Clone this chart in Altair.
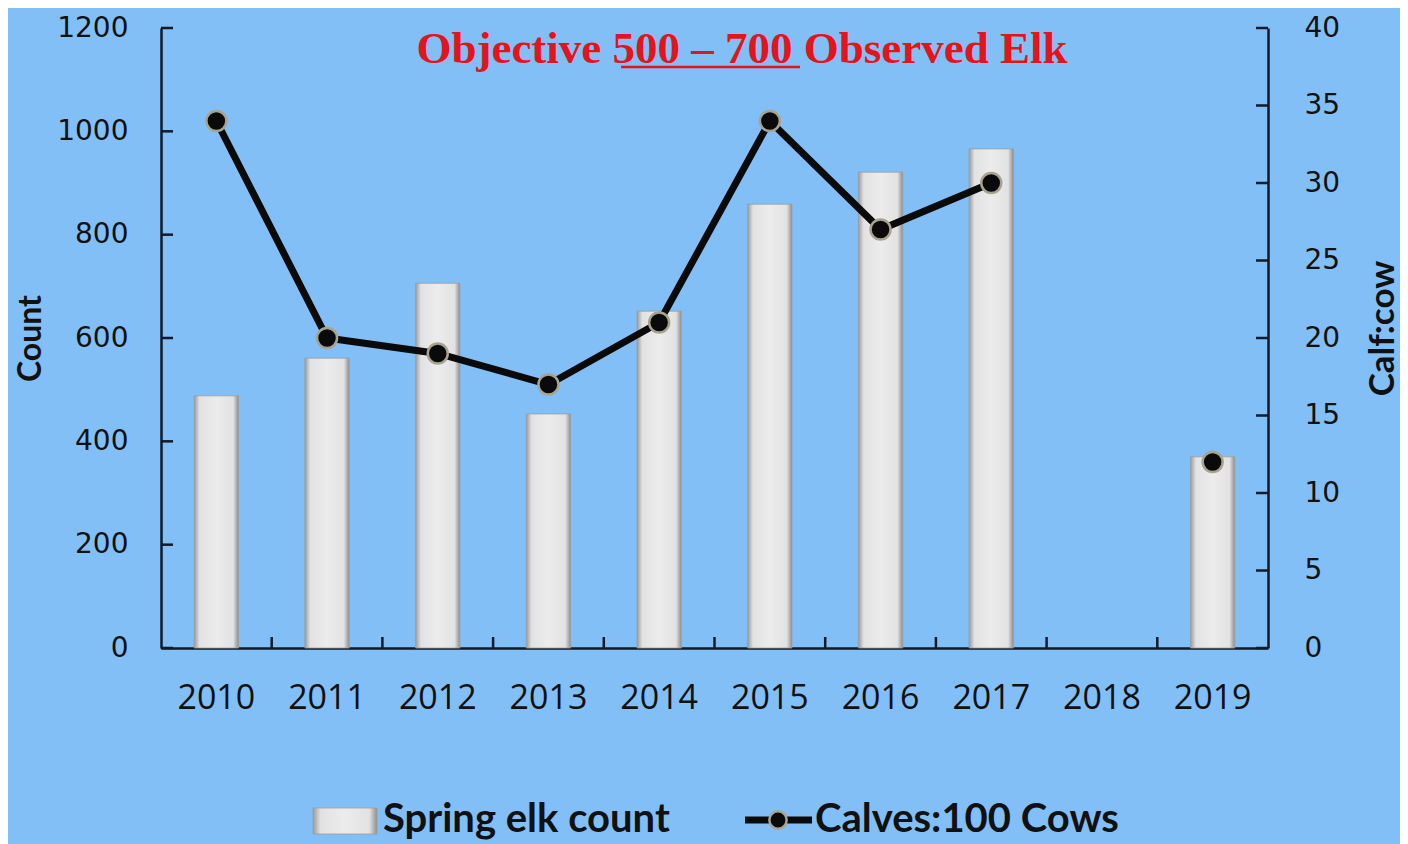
import altair as alt
import pandas as pd

# ---------------- data ----------------
years = ["2010", "2011", "2012", "2013", "2014", "2015", "2016", "2017", "2018", "2019"]
spring_counts = [488, 561, 706, 453, 652, 859, 921, 966, None, 370]
calf_ratios = [34, 20, 19, 17, 21, 34, 27, 30, None, 12]
left_ticks = [0, 200, 400, 600, 800, 1000, 1200]
right_ticks = [0, 5, 10, 15, 20, 25, 30, 35, 40]
title_text = "Objective 500 \u2013 700 Observed Elk"
legend_labels = ["Spring elk count", "Calves:100 Cows"]
left_title = "Count"
right_title = "Calf:cow"

# ---------------- tables ----------------
bar_df = pd.DataFrame({"year": years, "count": spring_counts}).dropna()

seg, seg_ids = 0, []
for r in calf_ratios:
    if r is None:
        seg += 1
    seg_ids.append(seg)
line_df = pd.DataFrame({"year": years, "ratio": calf_ratios, "seg": seg_ids}).dropna()

left_tick_df = pd.DataFrame({"count": left_ticks})
right_tick_df = pd.DataFrame({"ratio": right_ticks})
xtick_df = pd.DataFrame({"year": years[1:]})
title_df = pd.DataFrame({"t": [title_text]})
leg1_df = pd.DataFrame({"t": [legend_labels[0]]})
leg2_df = pd.DataFrame({"t": [legend_labels[1]]})

# ---------------- style ----------------
W, H = 1107, 620
BG = "#82BFF7"
AX = "#0f1a2a"
TXT = "#111111"

bar_fill = alt.Gradient(
    gradient="linear", x1=0, x2=1, y1=0, y2=0,
    stops=[
        alt.GradientStop(color="#9a9a9a", offset=0),
        alt.GradientStop(color="#e2e2e2", offset=0.12),
        alt.GradientStop(color="#ececec", offset=0.5),
        alt.GradientStop(color="#e2e2e2", offset=0.88),
        alt.GradientStop(color="#8e8e8e", offset=1),
    ],
)

x_scale = alt.Scale(domain=years, paddingInner=0, paddingOuter=0)
x_axis = alt.Axis(title=None, labelAngle=0, labelFont="Open Sans", labelFontSize=34,
                  labelColor=TXT, labelPadding=33, ticks=False, grid=False,
                  domainColor=AX, domainWidth=2.5)
x_enc = alt.X("year:O", scale=x_scale, axis=x_axis)

left_scale = alt.Scale(domain=[0, 1200], nice=False)
left_axis = alt.Axis(title=left_title, values=left_ticks, format="d", ticks=False, grid=False,
                     labelFont="DejaVu Sans", labelFontSize=28, labelColor=TXT,
                     labelPadding=33, domainColor=AX, domainWidth=2.5,
                     titleFont="Lato", titleFontSize=32, titleFontWeight="bold",
                     titleColor=TXT, titleAngle=-90, titleX=-131, titleY=310,
                     titleAlign="center", titleBaseline="middle", orient="left")
right_scale = alt.Scale(domain=[0, 40], nice=False)
right_axis = alt.Axis(title=right_title, values=right_ticks, format="d", ticks=False, grid=False,
                      labelFont="DejaVu Sans", labelFontSize=28, labelColor=TXT,
                      labelPadding=36, domainColor=AX, domainWidth=2.5,
                      titleFont="Lato", titleFontSize=35, titleFontWeight="bold",
                      titleColor=TXT, titleAngle=-90, titleX=114, titleY=300,
                      titleAlign="center", titleBaseline="middle", orient="right")

y_left = alt.Y("count:Q", scale=left_scale, axis=left_axis)
y_right = alt.Y("ratio:Q", scale=right_scale, axis=right_axis)

# ---------------- layers ----------------
bars = alt.Chart(bar_df).mark_bar(
    color=bar_fill, width=alt.RelativeBandSize(0.4), stroke="#9c9c9c", strokeWidth=0.8
).encode(x=x_enc, y=y_left)

lticks = alt.Chart(left_tick_df).mark_rule(color=AX, strokeWidth=2.5).encode(
    y=y_left, x=alt.value(0), x2=alt.value(12))

xticks = alt.Chart(xtick_df).mark_rule(color=AX, strokeWidth=2.5).encode(
    x=alt.X("year:O", scale=x_scale, axis=x_axis, bandPosition=0),
    y=alt.value(H), y2=alt.value(H - 11))

left = alt.layer(bars, lticks, xticks)

line = alt.Chart(line_df).mark_line(color="#0a0a0a", strokeWidth=7).encode(
    x=x_enc, y=y_right, detail="seg:N")
points = alt.Chart(line_df).mark_point(
    filled=True, fill="#0a0a0a", stroke="#a8a290", strokeWidth=2.5, size=400, opacity=1
).encode(x=x_enc, y=y_right)
rticks = alt.Chart(right_tick_df).mark_rule(color=AX, strokeWidth=2.5).encode(
    y=y_right, x=alt.value(W), x2=alt.value(W - 12))

right = alt.layer(line, points, rticks)

title = alt.Chart(title_df).mark_text(
    font="Liberation Serif", fontSize=45, fontWeight="bold", color="#E3141C",
    align="center", baseline="alphabetic"
).encode(text="t:N", x=alt.value(581), y=alt.value(35))
underline = alt.Chart(title_df).mark_rule(color="#E3141C", strokeWidth=2.5).encode(
    x=alt.value(460), x2=alt.value(639), y=alt.value(39))

leg_rect = alt.Chart(leg1_df).mark_rect(color=bar_fill, stroke="#9c9c9c", strokeWidth=0.8).encode(
    x=alt.value(152), x2=alt.value(216), y=alt.value(780), y2=alt.value(806))
leg_text1 = alt.Chart(leg1_df).mark_text(
    font="Lato", fontSize=40, fontWeight="bold", color=TXT, align="left", baseline="alphabetic"
).encode(text="t:N", x=alt.value(222), y=alt.value(804))
leg_line = alt.Chart(leg2_df).mark_rule(color="#0a0a0a", strokeWidth=7).encode(
    x=alt.value(584), x2=alt.value(651), y=alt.value(792))
leg_pt = alt.Chart(leg2_df).mark_point(
    filled=True, fill="#0a0a0a", stroke="#a8a290", strokeWidth=2.5, size=300, opacity=1
).encode(x=alt.value(617), y=alt.value(792))
leg_text2 = alt.Chart(leg2_df).mark_text(
    font="Lato", fontSize=40, fontWeight="bold", color=TXT, align="left", baseline="alphabetic"
).encode(text="t:N", x=alt.value(654), y=alt.value(804))

chart = alt.layer(
    left, right, title, underline, leg_rect, leg_text1, leg_line, leg_pt, leg_text2
).resolve_scale(y="independent").properties(
    width=W, height=H,
    autosize=alt.AutoSizeParams(type="none"),
    padding={"left": 153, "top": 20, "right": 132, "bottom": 196},
    background=BG,
).configure_view(stroke=None)

chart.save("out.html", embed_options={"renderer": "svg", "actions": False})
